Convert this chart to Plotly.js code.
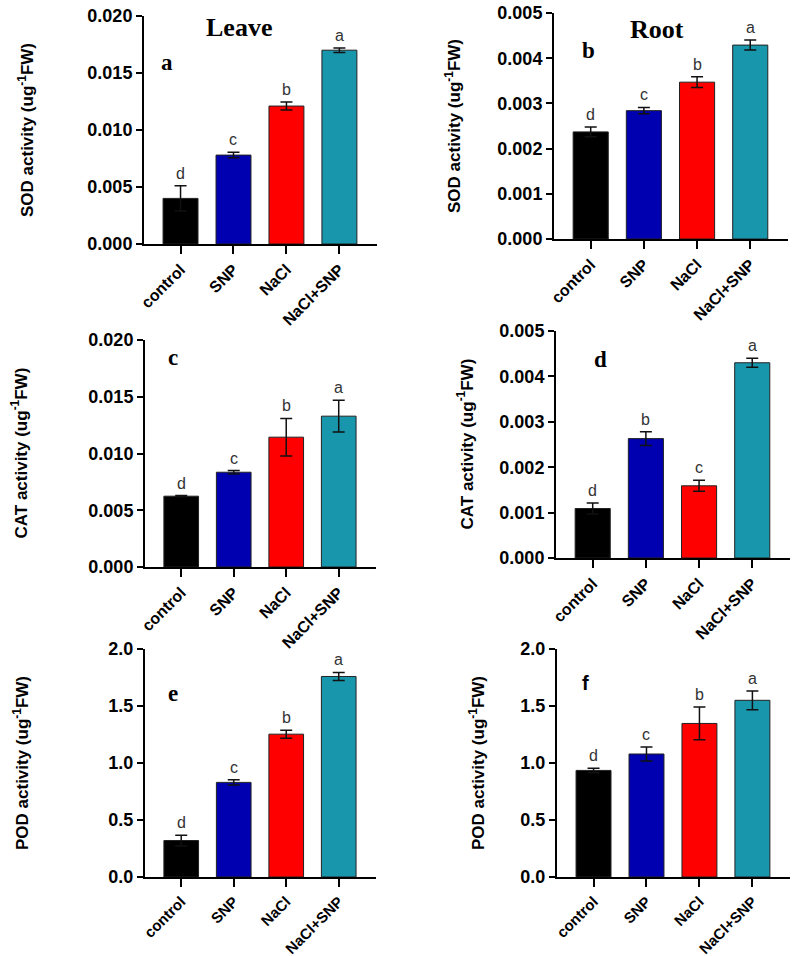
<!DOCTYPE html>
<html>
<head>
<meta charset="utf-8">
<script src="https://cdn.plot.ly/plotly-3.0.1.min.js"></script>
<style>body{margin:0;background:#fff}</style>
</head>
<body>
<div id="chart" style="width:800px;height:956px"></div>
<script>
// treatments
const groups = ["control", "SNP", "NaCl", "NaCl+SNP"];
const barColors = ["#000000", "#0000b0", "#ff0000", "#1896ac"];

// leaf
const leafSOD = [0.0040, 0.0078, 0.0121, 0.0170];
const leafSODErr = [0.0011, 0.00024, 0.00035, 0.0002];
const leafCAT = [0.00624, 0.00835, 0.01144, 0.01329];
const leafCATErr = [0.00005, 0.00015, 0.00165, 0.0014];
const leafPOD = [0.32, 0.83, 1.253, 1.759];
const leafPODErr = [0.047, 0.024, 0.035, 0.035];

// root
const rootSOD = [0.00237, 0.00284, 0.00347, 0.00429];
const rootSODErr = [0.00011, 0.00007, 0.00012, 0.00011];
const rootCAT = [0.00109, 0.00263, 0.00159, 0.0043];
const rootCATErr = [0.00012, 0.00015, 0.00012, 0.0001];
const rootPOD = [0.935, 1.079, 1.347, 1.55];
const rootPODErr = [0.02, 0.062, 0.144, 0.082];

// significance letters
const lettersA = ["d", "c", "b", "a"];
const lettersD = ["d", "b", "c", "a"];

const W = 800, H = 956;
const sans = "Liberation Sans, Arial, sans-serif";
const serif = "Liberation Serif, Times New Roman, serif";

// panel boxes in pixels: x0, x1 of axis, y of zero, y of top
const panels = [
  { y: leafSOD, err: leafSODErr, let: lettersA, tag: "a", ymax: 0.020, dt: 0.005, fmt: ".3f",
    title: "SOD activity (ug<sup>-1</sup>FW)", box: [144, 377, 244, 16], tpos: [167, 63], ttl: 26 },
  { y: rootSOD, err: rootSODErr, let: lettersA, tag: "b", ymax: 0.005, dt: 0.001, fmt: ".3f",
    title: "SOD activity (ug<sup>-1</sup>FW)", box: [554, 788, 239, 13], tpos: [588, 50], ttl: 453 },
  { y: leafCAT, err: leafCATErr, let: lettersA, tag: "c", ymax: 0.020, dt: 0.005, fmt: ".3f",
    title: "CAT activity (ug<sup>-1</sup>FW)", box: [145, 376, 567, 340], tpos: [173, 357], ttl: 19 },
  { y: rootCAT, err: rootCATErr, let: lettersD, tag: "d", ymax: 0.005, dt: 0.001, fmt: ".3f",
    title: "CAT activity (ug<sup>-1</sup>FW)", box: [556, 790, 558, 331], tpos: [600, 359], ttl: 466 },
  { y: leafPOD, err: leafPODErr, let: lettersA, tag: "e", ymax: 2.0, dt: 0.5, fmt: ".1f",
    title: "POD activity (ug<sup>-1</sup>FW)", box: [145, 376, 877, 649], tpos: [173, 693], ttl: 21 },
  { y: rootPOD, err: rootPODErr, let: lettersA, tag: "f", ymax: 2.0, dt: 0.5, fmt: ".1f",
    title: "POD activity (ug<sup>-1</sup>FW)", box: [557, 790, 877, 649], tpos: [585, 683], ttl: 477, sansTag: true }
];

const data = [];
const annotations = [];
const layout = {
  width: W, height: H,
  margin: { l: 0, r: 0, t: 0, b: 0 },
  paper_bgcolor: "#ffffff",
  plot_bgcolor: "#ffffff",
  showlegend: false,
  bargap: 0.34,
  font: { family: sans, color: "#000000" }
};

panels.forEach((p, i) => {
  const n = i === 0 ? "" : String(i + 1);
  const xa = "x" + n, ya = "y" + n;
  const [x0, x1, y0, y1] = p.box;

  data.push({
    type: "bar",
    x: groups,
    y: p.y,
    xaxis: xa,
    yaxis: ya,
    marker: { color: barColors, line: { color: "#222222", width: 1 } },
    error_y: { type: "data", array: p.err, visible: true, color: "#111111", thickness: 1.5, width: 6 },
    hoverinfo: "none"
  });

  layout["xaxis" + n] = {
    domain: [x0 / W, x1 / W],
    anchor: ya,
    type: "category",
    range: [-0.69, 3.71],
    showline: true, linewidth: 2, linecolor: "#000000",
    ticks: "outside", ticklen: 8, tickwidth: 2, tickcolor: "#000000",
    showgrid: false, zeroline: false,
    tickangle: -45,
    tickfont: { family: sans, size: i >= 4 ? 15 : 16, weight: "bold", color: "#000000" }
  };
  layout["yaxis" + n] = {
    domain: [1 - y0 / H, 1 - y1 / H],
    anchor: xa,
    range: [0, p.ymax],
    dtick: p.dt, tick0: 0,
    tickformat: p.fmt,
    showline: true, linewidth: 2, linecolor: "#000000",
    ticks: "outside", ticklen: 6, tickwidth: 2, tickcolor: "#000000",
    showgrid: false, zeroline: false,
    tickfont: { family: sans, size: 18, weight: "bold", color: "#000000" }
  };

  // y title
  annotations.push({
    xref: "paper", yref: "paper",
    x: p.ttl / W, y: 1 - (y0 + y1) / 2 / H,
    text: p.title, textangle: -90, showarrow: false,
    xanchor: "center", yanchor: "middle",
    font: { family: sans, size: 17, weight: "bold", color: "#000000" }
  });

  // panel tag
  annotations.push({
    xref: "paper", yref: "paper",
    x: p.tpos[0] / W, y: 1 - p.tpos[1] / H,
    text: p.tag, showarrow: false,
    xanchor: "center", yanchor: "middle",
    font: { family: p.sansTag ? sans : serif, size: p.sansTag ? 20 : 23, weight: "bold", color: "#000000" }
  });

  // significance letters above error bars
  groups.forEach((g, k) => {
    annotations.push({
      xref: xa, yref: ya,
      x: g, y: p.y[k] + p.err[k],
      text: p.let[k], showarrow: false,
      xanchor: "center", yanchor: "bottom", yshift: 2,
      font: { family: sans, size: 16, color: "#333333" }
    });
  });
});

// column headers
annotations.push({
  xref: "paper", yref: "paper", x: 239 / W, y: 1 - 27 / H,
  text: "Leave", showarrow: false, xanchor: "center", yanchor: "middle",
  font: { family: serif, size: 26, weight: "bold", color: "#000000" }
});
annotations.push({
  xref: "paper", yref: "paper", x: 657 / W, y: 1 - 29 / H,
  text: "Root", showarrow: false, xanchor: "center", yanchor: "middle",
  font: { family: serif, size: 26, weight: "bold", color: "#000000" }
});

layout.annotations = annotations;

Plotly.newPlot("chart", data, layout, { staticPlot: true });
</script>
</body>
</html>
